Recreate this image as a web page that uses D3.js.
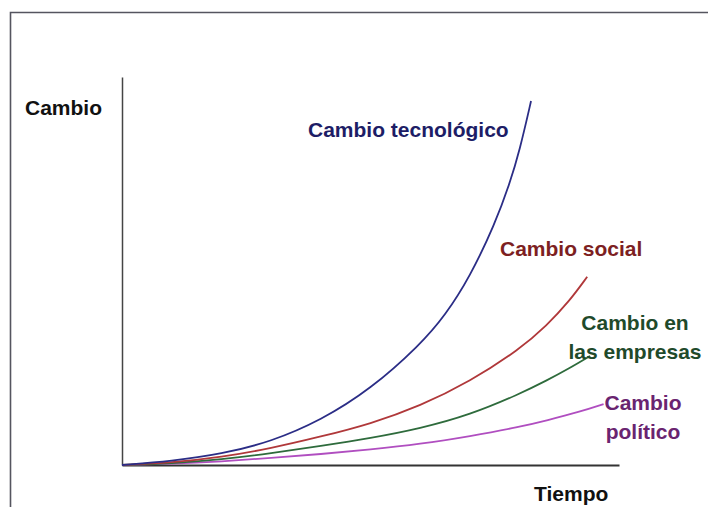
<!DOCTYPE html>
<html>
<head>
<meta charset="utf-8">
<script src="https://cdn.jsdelivr.net/npm/d3@7"></script>
<style>
  body { margin: 0; background: #fff; }
  svg text { font-family: "Liberation Sans", Arial, sans-serif; font-weight: bold; }
</style>
</head>
<body>
<div id="chart"></div>
<script>
// time (0-100) / change (0-100) pairs
const tecnologico = [[0,0],[10,1],[20,2.8],[30,6],[40,11.5],[50,19.5],[60,31],[65,38.5],[70,48.5],[75,62],[78,72.5],[80,81],[82.3,93.8]];
const social      = [[0,0],[10,0.6],[20,2],[30,4.3],[40,7.3],[50,10.6],[60,15.2],[70,21.5],[80,29.8],[85.5,36],[90,42.2],[93.6,48.5]];
const empresas    = [[0,0],[10,0.4],[20,1.4],[30,3],[40,4.9],[50,6.9],[60,9.4],[70,12.9],[80,18.3],[85.5,21.8],[90,24.9],[94.2,28.1]];
const politico    = [[0,0],[10,0.3],[20,0.9],[30,1.8],[40,2.8],[50,4],[60,5.4],[70,7.4],[80,9.8],[85.5,11.5],[92.1,13.7],[96.9,15.7]];

const seriesNames = ["Cambio tecnológico", "Cambio social", "Cambio en las empresas", "Cambio político"];
const axisLabels = {y: "Cambio", x: "Tiempo"};

const width = 708, height = 507;
const margin = {top: 77, right: 89, bottom: 42, left: 122};

const svg = d3.select("#chart").append("svg")
    .attr("width", width)
    .attr("height", height);

// slide frame (left + top edges only)
svg.append("path")
    .attr("d", `M10.5,${height} V12.5 H${width}`)
    .attr("fill", "none")
    .attr("stroke", "#55555f")
    .attr("stroke-width", 1.6);

const x = d3.scaleLinear().domain([0, 100]).range([margin.left, width - margin.right]);
const y = d3.scaleLinear().domain([0, 100]).range([height - margin.bottom, margin.top]);

// axes drawn as plain lines, no ticks
const g = svg.append("g");
g.append("g")
    .attr("transform", `translate(0,${y(0)})`)
    .call(d3.axisBottom(x).ticks(0).tickSize(0))
    .call(a => a.select(".domain").attr("stroke", "#333").attr("stroke-width", 2));
g.append("g")
    .attr("transform", `translate(${x(0)},0)`)
    .call(d3.axisLeft(y).ticks(0).tickSize(0))
    .call(a => a.select(".domain").attr("stroke", "#444").attr("stroke-width", 1.5));

const series = [
    {name: seriesNames[0], data: tecnologico, color: "#2b2d86", text: "#1d1d66"},
    {name: seriesNames[1], data: social,      color: "#b0383a", text: "#7d1f22"},
    {name: seriesNames[2], data: empresas,    color: "#2e6b3c", text: "#1f4a2b"},
    {name: seriesNames[3], data: politico,    color: "#b04ec0", text: "#6a2470"}
];

const line = d3.line()
    .x(d => x(d[0]))
    .y(d => y(d[1]))
    .curve(d3.curveBasis);

svg.selectAll("path.serie")
    .data(series.slice().reverse())
    .enter()
    .append("path")
    .attr("class", "serie")
    .attr("d", d => line(d.data))
    .attr("fill", "none")
    .attr("stroke", d => d.color)
    .attr("stroke-width", 1.8);

// series labels
const labels = [
    {lines: ["Cambio tecnológico"], x: 308, y: 137, anchor: "start", s: 0},
    {lines: ["Cambio social"], x: 500, y: 256, anchor: "start", s: 1},
    {lines: ["Cambio en", "las empresas"], x: 635, y: 330, anchor: "middle", s: 2},
    {lines: ["Cambio", "político"], x: 643, y: 410, anchor: "middle", s: 3}
];

labels.forEach(l => {
    const t = svg.append("text")
        .attr("x", l.x)
        .attr("y", l.y)
        .attr("text-anchor", l.anchor)
        .attr("fill", series[l.s].text)
        .style("font-size", "21px");
    l.lines.forEach((txt, i) => {
        t.append("tspan")
            .attr("x", l.x)
            .attr("dy", i === 0 ? 0 : 29)
            .text(txt);
    });
});

// axis titles
svg.append("text")
    .attr("x", 25)
    .attr("y", 115)
    .attr("fill", "#111")
    .style("font-size", "21px")
    .text(axisLabels.y);

svg.append("text")
    .attr("x", 534)
    .attr("y", 501)
    .attr("fill", "#111")
    .style("font-size", "21px")
    .text(axisLabels.x);
</script>
</body>
</html>
